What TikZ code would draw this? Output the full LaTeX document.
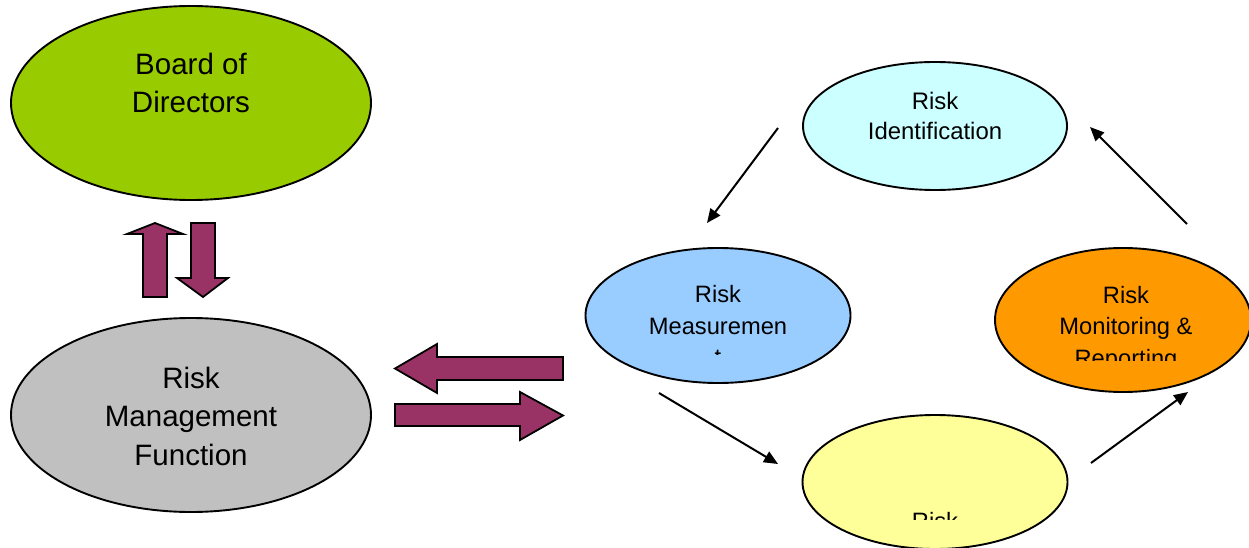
\documentclass[tikz,border=0pt]{standalone}
\usepackage{fontspec}
\setmainfont{Liberation Sans}
\usetikzlibrary{shapes.geometric,arrows.meta}
\definecolor{cgreen}{HTML}{99CC00}
\definecolor{cgray}{HTML}{C0C0C0}
\definecolor{ccyan}{HTML}{CCFFFF}
\definecolor{cblue}{HTML}{99CCFF}
\definecolor{corange}{HTML}{FF9900}
\definecolor{cyellow}{HTML}{FFFF99}
\definecolor{cplum}{HTML}{993366}
\tikzset{
  oval/.style={ellipse, draw=black, line width=1.9pt, inner sep=0pt},
  bigtxt/.style={align=center, anchor=base, inner sep=0pt, font=\fontsize{29.5}{38.5}\selectfont},
  smalltxt/.style={align=center, anchor=base, inner sep=0pt, font=\fontsize{23.7}{31.5}\selectfont},
  blockarrow/.style={fill=cplum, draw=black, line width=1.8pt, line join=miter},
  flow/.style={draw=black, line width=2pt, -{Triangle[length=14pt,width=12pt]}}
}
\begin{document}
\begin{tikzpicture}[x=1pt,y=-1pt]
\useasboundingbox (0,0) rectangle (1249,548);
% ellipses
\node[oval, fill=cgreen, minimum width=360pt, minimum height=194pt] (board) at (191,103) {};
\node[oval, fill=cgray, minimum width=360pt, minimum height=194pt] (rmf) at (191,415) {};
\node[oval, fill=ccyan, minimum width=264pt, minimum height=128pt] (ident) at (935,126) {};
\node[oval, fill=cblue, minimum width=265pt, minimum height=135pt] (meas) at (718,315.5) {};
\node[oval, fill=corange, minimum width=256pt, minimum height=144pt] (mon) at (1123,320) {};
\node[oval, fill=cyellow, minimum width=265pt, minimum height=134pt] (ctrl) at (935,482) {};
% texts (anchor base = baseline of last line)
\node[bigtxt] (boardT) at (191,113) {Board of\\Directors};
\node[bigtxt] (rmfT) at (191,465) {Risk\\Management\\Function};
\node[smalltxt, font=\fontsize{23.9}{30}\selectfont] (identT) at (935,139.5) {Risk\\Identification};
\begin{scope}
\clip (586,240) rectangle (851,354);
\node[smalltxt] (measT) at (718,365.5) {Risk\\Measuremen\\t};
\end{scope}
\begin{scope}
\clip (995,240) rectangle (1249,360);
\node[smalltxt] (monT) at (1126,366) {Risk\\Monitoring \&\\Reporting};
\end{scope}
\begin{scope}
\clip (803,410) rectangle (1068,519);
\node[smalltxt] (ctrlT) at (935,529.5) {Risk};
\end{scope}
% block arrows
\draw[blockarrow] (143,297) -- (143,234) -- (127,234) -- (155,223) -- (183,234) -- (167,234) -- (167,297) -- cycle;
\draw[blockarrow] (191,223) -- (215,223) -- (215,278) -- (228,278) -- (203,297) -- (177,278) -- (191,278) -- cycle;
\draw[blockarrow] (563,357) -- (437,357) -- (437,344) -- (395,368.5) -- (437,393) -- (437,380) -- (563,380) -- cycle;
\draw[blockarrow] (395,404) -- (520,404) -- (520,392) -- (563,415.5) -- (520,440) -- (520,426) -- (395,426) -- cycle;
% flow arrows
\coordinate (a1s) at (778,128); \coordinate (a1e) at (707,223);
\coordinate (a2s) at (659,393); \coordinate (a2e) at (778,464);
\coordinate (a3s) at (1091,463); \coordinate (a3e) at (1188,392);
\coordinate (a4s) at (1187,224); \coordinate (a4e) at (1090,127);
\draw[flow] (a1s) -- (a1e);
\draw[flow] (a2s) -- (a2e);
\draw[flow] (a3s) -- (a3e);
\draw[flow] (a4s) -- (a4e);
\end{tikzpicture}
\end{document}
